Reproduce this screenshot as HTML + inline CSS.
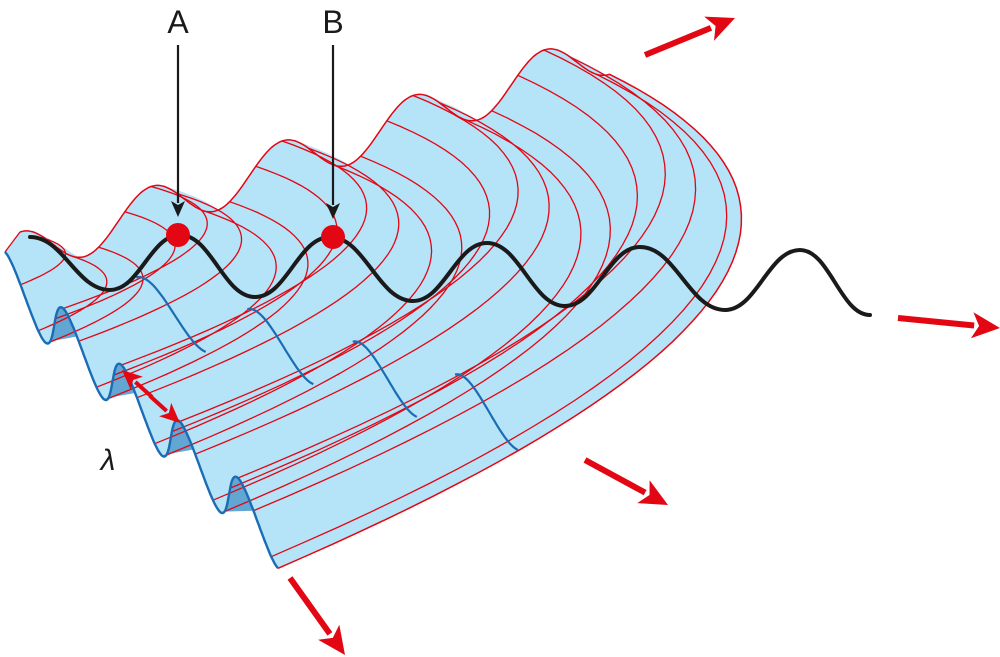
<!DOCTYPE html>
<html><head><meta charset="utf-8"><style>
html,body{margin:0;padding:0;background:#fff;}
svg{display:block;}
text{font-family:"Liberation Sans",sans-serif;}
</style></head><body>
<svg id="fig" width="1000" height="657" viewBox="0 0 1000 657">
<g id="surface"></g>
<g id="overlay"></g>
</svg>
<script>
// wave parameters (periods span of the surface)
const sMax = [4.5];
const arcStep = [0.2];
// black wave extrema points [x, y]
const waveX = [30, 110, 180, 255, 330, 413, 487, 565, 640, 725, 800, 870];
const waveY = [237, 290, 235, 297, 237, 301, 243, 306, 247, 310, 250, 315];
const labels = ["A", "B"];
const dotX = [178, 333];
const dotY = [235, 237];

const NS = "http://www.w3.org/2000/svg";
const S = sMax[0];
function cw(s){ return (1 - Math.cos(2*Math.PI*s))/2; }
function topE(s){ const c=cw(s); return [20+131*s, 232-45.5*s+47*c]; }
function frontE(s){ const c=cw(s); return [5+58.25*s+11*c, 252+56.5*s+62*c]; }
function ctrl(s){ const a=topE(s), b=frontE(s); const k=Math.pow(Math.max(s,0)/S,0.7);
  return [(a[0]+b[0])/2+545*k, (a[1]+b[1])/2-60*k]; }
function P(s,t){ const a=topE(s), b=frontE(s), c=ctrl(s); const u=1-t;
  return [u*u*a[0]+2*u*t*c[0]+t*t*b[0], u*u*a[1]+2*u*t*c[1]+t*t*b[1]]; }
function mk(tag, attrs, parent){ const e=document.createElementNS(NS,tag);
  for(const k in attrs) e.setAttribute(k, attrs[k]); parent.appendChild(e); return e; }
function pts(arr){ return arr.map(p=>p[0].toFixed(1)+","+p[1].toFixed(1)).join(" "); }

const surf=document.getElementById("surface");
const ov=document.getElementById("overlay");
const FILL="#b5e3f8", RED="#e30613", BLUE="#1a6db5";

// fill bands
for(let s=0; s<S-1e-6; s+=0.04){
  const s2=Math.min(S,s+0.04); const a=[], b=[];
  for(let t=0;t<=1.0001;t+=0.05){ a.push(P(s,t)); b.push(P(s2,t)); }
  const band=mk("polygon",{points:pts(a.concat(b.reverse())),fill:FILL,stroke:FILL,"stroke-width":"0.8"},surf);
  
  
}
// dark blue bumps at front edge
for(let k=1;k<5;k++){
  const a=[]; for(let s=k-0.5;s<=k+0.2;s+=0.02){ a.push(frontE(s)); }
  const bump=mk("polygon",{points:pts(a),fill:"#62a6d3",stroke:"none"},surf);
  
  
}
// red arcs
for(let s=arcStep[0]; s<S-0.01; s+=arcStep[0]){
  const a=[]; for(let t=0;t<=1.0001;t+=0.025) a.push(P(s,t));
  const arc=mk("polyline",{points:pts(a),fill:"none",stroke:RED,"stroke-width":"1.3"},surf);
  
  
}
// interior blue cross-section segments
for(let k=1;k<5;k++){
  const a=[]; for(let s=k-0.05;s<=k+0.5;s+=0.02) a.push(P(s,0.8));
  const seg=mk("polyline",{points:pts(a),fill:"none",stroke:BLUE,"stroke-width":"2.2"},surf);
  
  
}
// top edge + outer arc
{ const a=[]; for(let s=0;s<=S+1e-6;s+=0.02) a.push(topE(s));
  for(let t=0;t<=1.0001;t+=0.02) a.push(P(S,t));
  const e=mk("polyline",{points:pts(a),fill:"none",stroke:RED,"stroke-width":"1.5"},surf);
  
  
  const a0=[]; for(let t=0;t<=1.0001;t+=0.1) a0.push(P(0,t));
  const e0=mk("polyline",{points:pts(a0),fill:"none",stroke:RED,"stroke-width":"1.3"},surf);
  
  
}
// front edge blue
{ const a=[]; for(let s=0;s<=S+1e-6;s+=0.02) a.push(frontE(s));
  const e=mk("polyline",{points:pts(a),fill:"none",stroke:BLUE,"stroke-width":"2.4","stroke-linejoin":"round"},surf);
  
  
}
// black wave
{ let d="M"+waveX[0]+","+waveY[0];
  for(let i=1;i<waveX.length;i++){ const dx=(waveX[i]-waveX[i-1])*0.42;
    d+=" C"+(waveX[i-1]+dx)+","+waveY[i-1]+" "+(waveX[i]-dx)+","+waveY[i]+" "+waveX[i]+","+waveY[i]; }
  const w=mk("path",{d:d,fill:"none",stroke:"#1a1a1a","stroke-width":"4","stroke-linecap":"round"},ov);
  
  
}
// arrow helper
function arrow(x1,y1,x2,y2,col,w,hl,hw,name){
  const g=mk("g",{},ov);
  
  
  const dx=x2-x1, dy=y2-y1, L=Math.hypot(dx,dy), ux=dx/L, uy=dy/L;
  const bx=x2-ux*hl, by=y2-uy*hl;
  mk("line",{x1:x1,y1:y1,x2:bx+ux*2,y2:by+uy*2,stroke:col,"stroke-width":w},g);
  mk("polygon",{points:pts([[x2,y2],[bx-uy*hw,by+ux*hw],[bx+ux*hl*0.25,by+uy*hl*0.25],[bx+uy*hw,by-ux*hw]]),fill:col},g);
  return g;
}
arrow(645,55,735,18,RED,6,28,13,"outgoing-arrow-1");
arrow(898,318,1000,328,RED,6,28,13,"outgoing-arrow-2");
arrow(585,460,668,505,RED,6,28,13,"outgoing-arrow-3");
arrow(290,578,345,655,RED,6,28,13,"outgoing-arrow-4");
// lambda double arrow
arrow(150,396,180,423,RED,4,20,9,"wavelength-arrow-end");
arrow(152,397,122,370,RED,4,20,9,"wavelength-arrow-start");
// points A, B
for(let i=0;i<labels.length;i++){
  arrow(dotX[i],45,dotX[i],dotY[i]-18,"#1a1a1a",2.2,16,7,"pointer-"+labels[i].toLowerCase());
  const c=mk("circle",{cx:dotX[i],cy:dotY[i],r:12,fill:RED},ov);
  
  
  const t=mk("text",{x:dotX[i],y:33,"font-size":"32","text-anchor":"middle",fill:"#1a1a1a"},ov);
  t.textContent=labels[i];
  
  
}
const lam=mk("text",{x:108,y:470,"font-size":"30","font-style":"italic","text-anchor":"middle",fill:"#1a1a1a"},ov);
lam.textContent="λ";


</script>
</body></html>
